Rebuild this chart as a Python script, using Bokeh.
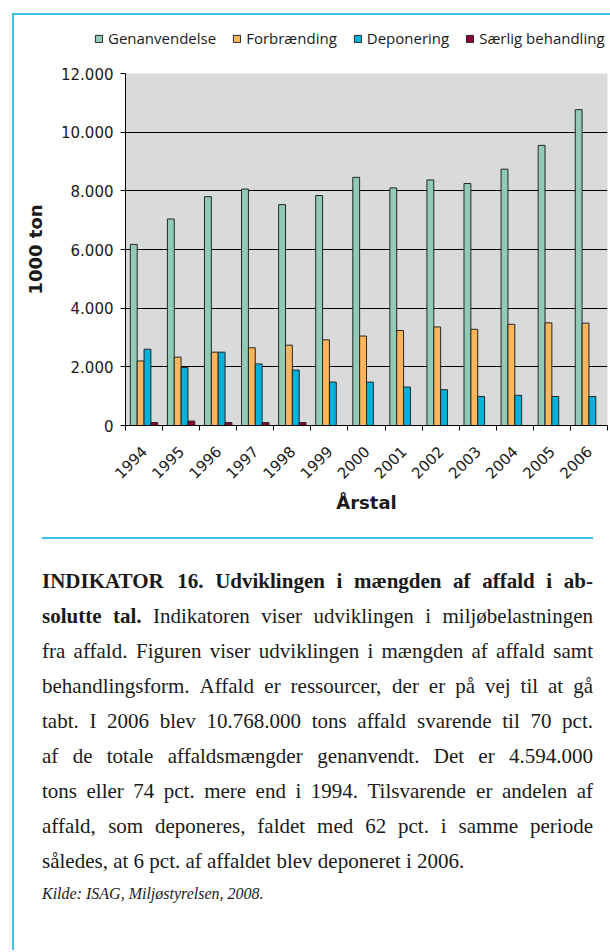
import math
from bokeh.plotting import figure
from bokeh.models import (Range1d, FixedTicker, Legend, LegendItem, ColumnDataSource)
from bokeh.transform import dodge
from bokeh.embed import file_html
from bokeh.resources import INLINE
from bokeh.core.properties import value

# ---------------- data ----------------
years = ["1994", "1995", "1996", "1997", "1998", "1999", "2000",
         "2001", "2002", "2003", "2004", "2005", "2006"]
genanvendelse = [6174, 7040, 7800, 8060, 7530, 7840, 8460, 8100, 8370, 8250, 8740, 9550, 10768]
forbraending = [2200, 2330, 2500, 2650, 2740, 2920, 3050, 3240, 3360, 3280, 3450, 3500, 3490]
deponering = [2600, 1980, 2500, 2100, 1890, 1480, 1480, 1310, 1220, 990, 1030, 990, 990]
saerlig = [100, 150, 100, 100, 100, 0, 0, 0, 0, 0, 0, 0, 0]
series_names = ["Genanvendelse", "Forbrænding", "Deponering", "Særlig behandling"]
y_ticks = [0, 2000, 4000, 6000, 8000, 10000, 12000]
y_tick_labels = ["0", "2.000", "4.000", "6.000", "8.000", "10.000", "12.000"]
y_axis_title = "1000 ton"
x_axis_title = "Årstal"

caption_lines = [
    [("INDIKATOR 16. Udviklingen i mængden af affald i ab-", "bold")],
    [("solutte tal.", "bold"), ("Indikatoren viser udviklingen i miljøbelastningen", "normal")],
    [("fra affald. Figuren viser udviklingen i mængden af affald samt", "normal")],
    [("behandlingsform. Affald er ressourcer, der er på vej til at gå", "normal")],
    [("tabt. I 2006 blev 10.768.000 tons affald svarende til 70 pct.", "normal")],
    [("af de totale affaldsmængder genanvendt. Det er 4.594.000", "normal")],
    [("tons eller 74 pct. mere end i 1994. Tilsvarende er andelen af", "normal")],
    [("affald, som deponeres, faldet med 62 pct. i samme periode", "normal")],
    [("således, at 6 pct. af affaldet blev deponeret i 2006.", "normal")],
]
source_line = "Kilde: ISAG, Miljøstyrelsen, 2008."

# ---------------- styles ----------------
colors = ["#92CBB5", "#FBB55A", "#00B2DA", "#8B0038"]
BORDER = "#3EC1E6"
TXT = "#1a1a1a"
GRAD = f"linear-gradient({BORDER},{BORDER})"

W = 610
H0 = 58      # header (legend) strip
H1 = 472     # chart
H2 = 420     # caption

centers = [i + 0.5 for i in range(len(years))]
src = ColumnDataSource(dict(x=centers, gen=genanvendelse, forb=forbraending,
                            dep=deponering, saer=saerlig))
cols = ["gen", "forb", "dep", "saer"]

# ---------------- header with legend ----------------
h = figure(width=W, height=H0, x_range=Range1d(0, W), y_range=Range1d(H0, 0),
           output_backend="svg", toolbar_location=None,
           min_border_left=0, min_border_right=0, min_border_top=0, min_border_bottom=0,
           x_axis_location=None, y_axis_location=None,
           background_fill_color=None, border_fill_color=None)
h.outline_line_color = None
h.grid.visible = False
h.styles = {
    "background-color": "white",
    "background-image": f"{GRAD}, {GRAD}",
    "background-size": "2px 100%, 100% 2px",
    "background-position": "12px 13px, 12px 13px",
    "background-repeat": "no-repeat",
}
legend_renderers = [h.vbar(x="x", top=col, width=1, source=src, fill_color=c,
                           line_color="#262626", line_width=1, visible=False)
                    for col, c in zip(cols, colors)]
legend = Legend(items=[LegendItem(label=n, renderers=[r]) for n, r in zip(series_names, legend_renderers)],
                orientation="horizontal", location=(94, 10),
                glyph_width=9, glyph_height=9, label_standoff=5, spacing=16,
                padding=0, margin=0, border_line_color=None, background_fill_alpha=0,
                inactive_fill_alpha=0,
                label_text_font="Open Sans", label_text_font_size="15px",
                label_text_color=TXT, label_height=9)
h.add_layout(legend)

# ---------------- chart ----------------
p = figure(width=W, height=H1, x_range=Range1d(0, len(years)), y_range=Range1d(0, 12000),
           output_backend="svg", toolbar_location=None,
           min_border_left=125, min_border_right=3, min_border_top=15, min_border_bottom=105,
           background_fill_color="#D9DADC", border_fill_color=None)
p.outline_line_color = None
p.styles = {
    "background-color": "white",
    "background-image": GRAD,
    "background-size": "2px 100%",
    "background-position": "12px 0px",
    "background-repeat": "no-repeat",
}

bw = 0.185
offsets = [-1.5 * bw, -0.5 * bw, 0.5 * bw, 1.5 * bw]
for col, off, c in zip(cols, offsets, colors):
    p.vbar(x=dodge("x", off, range=p.x_range), top=col, width=bw, bottom=0, source=src,
           fill_color=c, line_color="#262626", line_width=1)

xa = p.xaxis[0]
xa.ticker = FixedTicker(ticks=centers, minor_ticks=list(range(len(years) + 1)))
xa.major_label_overrides = {c: y for c, y in zip(centers, years)}
xa.major_label_orientation = math.pi / 4
xa.major_tick_out = 0
xa.major_tick_in = 0
xa.minor_tick_out = 5
xa.minor_tick_in = 0
xa.minor_tick_line_color = "black"
xa.axis_line_color = "black"
xa.major_label_text_font = "DejaVu Sans"
xa.major_label_text_font_size = "15px"
xa.major_label_text_color = TXT
xa.major_label_standoff = 18
xa.axis_label = x_axis_title
xa.axis_label_text_font = "DejaVu Sans"
xa.axis_label_text_font_style = "bold"
xa.axis_label_text_font_size = "18px"
xa.axis_label_text_color = TXT
xa.axis_label_standoff = 5

ya = p.yaxis[0]
ya.ticker = FixedTicker(ticks=y_ticks)
ya.major_label_overrides = {t: l for t, l in zip(y_ticks, y_tick_labels)}
ya.major_tick_out = 5
ya.major_tick_in = 0
ya.minor_tick_line_color = None
ya.axis_line_color = "black"
ya.major_tick_line_color = "black"
ya.major_label_text_font = "DejaVu Sans"
ya.major_label_text_font_size = "15px"
ya.major_label_text_color = TXT
ya.major_label_standoff = 7
ya.axis_label = y_axis_title
ya.axis_label_text_font = "DejaVu Sans"
ya.axis_label_text_font_style = "bold"
ya.axis_label_text_font_size = "18px"
ya.axis_label_text_color = TXT
ya.axis_label_standoff = 12

p.xgrid.visible = False
p.ygrid.ticker = FixedTicker(ticks=y_ticks[1:-1])
p.ygrid.grid_line_color = "black"
p.ygrid.grid_line_alpha = 1.0
p.ygrid.grid_line_width = 1

# ---------------- caption ----------------
TIMES = {
    "normal": dict(zip(" ,-.:0123456789", [250, 250, 333, 250, 278] + [500] * 10),
                   **{"A": 722, "B": 667, "C": 667, "D": 722, "E": 611, "F": 556, "G": 722, "H": 722,
                      "I": 333, "J": 389, "K": 722, "L": 611, "M": 889, "N": 722, "O": 722, "P": 556,
                      "R": 667, "S": 556, "T": 611, "U": 722,
                      "a": 444, "b": 500, "c": 444, "d": 500, "e": 444, "f": 333, "g": 500, "h": 500,
                      "i": 278, "j": 278, "k": 500, "l": 278, "m": 778, "n": 500, "o": 500, "p": 500,
                      "q": 500, "r": 333, "s": 389, "t": 278, "u": 500, "v": 500, "w": 722, "x": 500,
                      "y": 500, "z": 444, "æ": 667, "ø": 500, "å": 444}),
    "bold": dict(zip(" ,-.:0123456789", [250, 250, 333, 250, 333] + [500] * 10),
                 **{"A": 722, "D": 722, "I": 389, "K": 778, "N": 722, "O": 778, "R": 722, "T": 667,
                    "U": 722, "a": 500, "b": 556, "c": 444, "d": 556, "e": 444, "f": 333, "g": 500,
                    "h": 556, "i": 278, "j": 333, "k": 556, "l": 278, "m": 833, "n": 556, "o": 500,
                    "p": 556, "r": 444, "s": 389, "t": 333, "u": 556, "v": 500, "æ": 722, "ø": 500,
                    "å": 500}),
}


def word_width(w, style, fs):
    tab = TIMES[style]
    return sum(tab.get(ch, 500) for ch in w) / 1000.0 * fs


FS = 21
LEFT, RIGHT = 41.5, 592.5
BASE0, LEADING = 580, 35
Y0 = H0 + H1

words = {"normal": dict(x=[], y=[], text=[]), "bold": dict(x=[], y=[], text=[])}
for li, segs in enumerate(caption_lines):
    items = []
    for txt, style in segs:
        for w in txt.split(" "):
            items.append((w, style))
    widths = [word_width(w, s, FS) for w, s in items]
    justify = li < len(caption_lines) - 1
    if justify and len(items) > 1:
        gap = (RIGHT - LEFT - sum(widths)) / (len(items) - 1)
    else:
        gap = 0.25 * FS
    x = LEFT
    yb = BASE0 + li * LEADING
    for (w, s), wd in zip(items, widths):
        words[s]["x"].append(x)
        words[s]["y"].append(yb)
        words[s]["text"].append(w)
        x += wd + gap

q = figure(width=W, height=H2, x_range=Range1d(0, W), y_range=Range1d(Y0 + H2, Y0),
           output_backend="svg", toolbar_location=None,
           min_border_left=0, min_border_right=0, min_border_top=0, min_border_bottom=0,
           x_axis_location=None, y_axis_location=None,
           background_fill_color=None, border_fill_color=None)
q.outline_line_color = None
q.grid.visible = False
q.styles = {
    "background-color": "white",
    "background-image": GRAD,
    "background-size": "2px 100%",
    "background-position": "12px 0px",
    "background-repeat": "no-repeat",
}

q.segment(x0=[LEFT], y0=[537.5], x1=[RIGHT], y1=[537.5], line_color=BORDER, line_width=2)

for style in ("bold", "normal"):
    q.text(x="x", y="y", text="text", source=ColumnDataSource(words[style]),
           text_font=value("Liberation Serif"), text_font_size=f"{FS}px",
           text_font_style=style, text_color=TXT, text_baseline="alphabetic", text_align="left")

q.text(x=[LEFT], y=[BASE0 + 9 * LEADING - 2], text=[source_line],
       text_font=value("Liberation Serif"), text_font_size="16px", text_font_style="italic",
       text_color=TXT, text_baseline="alphabetic", text_align="left")

open("out.html", "w").write(file_html([h, p, q], INLINE))
